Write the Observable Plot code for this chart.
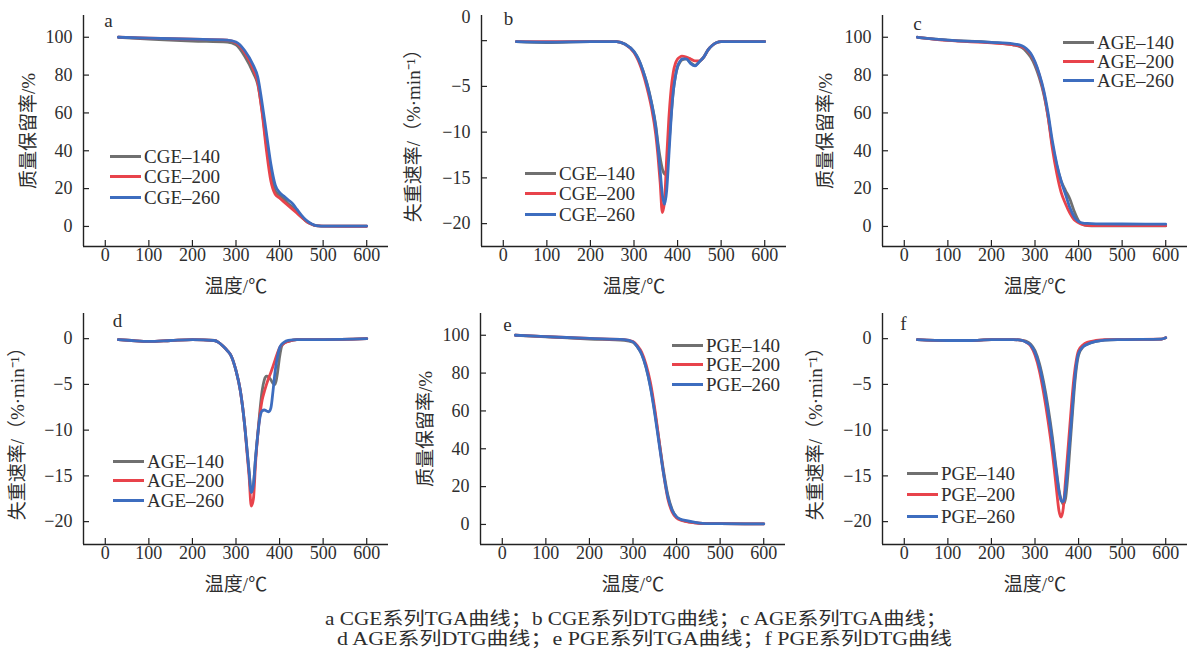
<!DOCTYPE html>
<html><head><meta charset="utf-8">
<script src="https://cdn.jsdelivr.net/npm/d3@7"></script>
<script src="https://cdn.jsdelivr.net/npm/@observablehq/plot@0.6"></script>
<style>
body{margin:0;background:#fff;overflow:hidden}
#fig{position:relative;width:1189px;height:655px;background:#fff;font-family:"Liberation Serif","Noto Sans CJK SC",serif;color:#2e2e2e}
.panel{position:absolute}
.legend{position:absolute;font-size:19px;line-height:19px}
.legend .row{position:absolute;left:0;display:flex;align-items:center;white-space:nowrap;height:18px;transform:translateY(-50%)}
.legend .sw{display:inline-block;width:31px;height:3px;margin-right:3px}
#cap{position:absolute;left:0;top:600px}
</style></head><body><div id="fig"></div>
<script>
// ---------- data ----------
const seriesKeys = ["140", "200", "260"];
const seriesColors = ["#707070", "#e8434b", "#3d6dbf"];
const xTicks = [0, 100, 200, 300, 400, 500, 600];
const tgaTicks = [0, 20, 40, 60, 80, 100];
const dtgTicks = [-20, -15, -10, -5, 0];

// a: CGE TGA
const tA = [30,100,200,280,300,320,340,350,360,370,380,390,400,410,420,430,440,450,460,470,480,490,500,550,600];
const aGray = [100,99,98,97.5,96,90,81,75,61,43,27,19,16.5,14.5,12,10,7.5,5,3,1.5,0.6,0.3,0.2,0.2,0.2];
const aRed  = [100,99.5,99,98.5,97,92,83,76,60,40,24,17,15,13,11,9,7,5,3,1.5,0.6,0.3,0.2,0.1,0.1];
const aBlue = [100,99.5,99,98.5,97.5,93,85,79,65,49,33,22,18,16,14,12,9,6,3.5,1.8,0.7,0.3,0.2,0.2,0.2];

// b: CGE DTG
const tB = [30,100,200,260,280,300,310,320,330,340,350,355,360,365,370,375,380,385,390,395,400,405,410,420,430,440,450,460,470,480,490,500,550,600];
const bGray = [-0.1,-0.2,-0.1,-0.1,-0.4,-1.2,-2.0,-3.2,-4.7,-6.7,-9.3,-11.2,-12.8,-14.0,-14.6,-14.0,-11.5,-8.3,-5.6,-3.9,-2.9,-2.4,-2.1,-2.0,-2.4,-2.7,-2.3,-1.8,-1.0,-0.5,-0.2,-0.1,-0.1,-0.1];
const bRed  = [-0.1,-0.1,-0.1,-0.1,-0.4,-1.3,-2.2,-3.5,-5.2,-7.3,-10.3,-12.6,-15.5,-18.8,-17.6,-12.8,-8.5,-5.4,-3.5,-2.5,-2.0,-1.8,-1.7,-1.8,-2.0,-2.2,-2.2,-1.8,-1.0,-0.5,-0.2,-0.1,-0.1,-0.1];
const bBlue = [-0.1,-0.15,-0.1,-0.1,-0.4,-1.2,-2.0,-3.2,-4.8,-6.8,-9.5,-11.6,-14.2,-16.8,-17.9,-16.4,-12.6,-8.6,-5.6,-3.9,-2.8,-2.3,-2.0,-2.0,-2.5,-2.75,-2.3,-1.8,-1.0,-0.5,-0.2,-0.1,-0.1,-0.1];

// c: AGE TGA
const tC = [30,100,200,250,270,280,290,300,310,320,330,340,350,360,370,380,390,400,410,420,440,500,600];
const cGray = [100,98.5,97.3,96,94.5,92.5,89.5,85,78.5,70,58,43,32,24,19,14.5,8,3,1,0.5,0.3,0.3,0.3];
const cRed  = [100,98.3,97,96,95,93.5,91,86.5,80,71,58,41,28,18,12,7,3.5,2,1,0.6,0.4,0.4,0.4];
const cBlue = [100,98.5,97.3,96.5,95.5,94,91.5,87,80.5,72,60,45,33,24,17,10,5,2.6,1.8,1.6,1.4,1.3,1.2];

// d: AGE DTG
const tD = [30,60,100,150,200,250,260,270,280,290,300,310,320,325,330,335,340,345,350,355,360,365,370,375,380,385,390,395,400,405,410,420,440,500,600];
const dGray = [-0.1,-0.2,-0.3,-0.2,-0.1,-0.2,-0.4,-0.8,-1.3,-2.0,-3.5,-5.7,-9.5,-12,-14.5,-16.8,-16,-13,-10.4,-7.8,-5.7,-4.5,-4.1,-4.2,-4.5,-4.9,-5,-3.8,-2,-0.8,-0.5,-0.3,-0.1,-0.1,0];
const dRed  = [-0.1,-0.2,-0.3,-0.2,-0.1,-0.2,-0.4,-0.8,-1.3,-2.0,-3.5,-5.7,-9.5,-12.3,-15,-18.3,-17.5,-13.5,-10.5,-8.3,-6.7,-5.8,-5,-4.3,-3.7,-3,-2.3,-1.6,-1,-0.7,-0.5,-0.3,-0.1,-0.1,0];
const dBlue = [-0.1,-0.2,-0.3,-0.2,-0.1,-0.2,-0.4,-0.8,-1.3,-2.0,-3.5,-5.7,-9.5,-12,-14.5,-16.8,-16,-13,-10.5,-8.6,-7.9,-7.8,-7.9,-8,-7.6,-5.7,-3.5,-2,-1,-0.6,-0.4,-0.2,-0.1,-0.1,0];

// e: PGE TGA
const tE = [30,100,200,280,300,310,320,330,340,350,360,370,380,390,400,410,420,440,460,500,600];
const eGray = [100,99.2,98,97.3,96.3,93.8,90,83,73,59.5,44,28.5,15.5,7.8,4,2.5,1.8,1,0.6,0.4,0.3];
const eRed  = [100,99.3,98.3,97.7,96.7,94.5,91,84.5,75,61,44,27,13.5,6.5,3.4,2.2,1.6,0.9,0.5,0.4,0.3];
const eBlue = [100,99.3,98.3,97.7,96.5,94,90,83,72.5,58.5,42.5,27,14.5,7.4,4,2.7,2.1,1.2,0.6,0.4,0.3];

// f: PGE DTG
const tF = [30,100,150,200,250,270,280,290,300,310,320,330,340,345,350,355,360,365,370,375,380,385,390,395,400,410,420,440,460,500,590,600];
const fGray = [-0.1,-0.2,-0.2,-0.1,-0.1,-0.2,-0.3,-0.6,-1.3,-2.7,-4.8,-7.5,-10.8,-12.8,-14.7,-16.5,-17.6,-18.1,-17.5,-15.2,-12,-8.8,-5.6,-3.2,-1.8,-0.9,-0.6,-0.3,-0.15,-0.1,-0.05,0.1];
const fRed  = [-0.1,-0.2,-0.2,-0.1,-0.1,-0.2,-0.4,-0.8,-1.8,-3.5,-6,-9,-12.5,-14.6,-16.8,-18.8,-19.5,-18.5,-15.5,-12.5,-9.5,-6.5,-4,-2.3,-1.3,-0.7,-0.4,-0.2,-0.1,-0.1,-0.05,0.1];
const fBlue = [-0.1,-0.2,-0.2,-0.1,-0.1,-0.2,-0.4,-0.7,-1.5,-3.0,-5.2,-8.0,-11.3,-13.2,-15,-16.7,-17.7,-17.8,-16.5,-14,-11,-8,-5,-2.8,-1.6,-0.9,-0.6,-0.3,-0.15,-0.1,-0.05,0.1];

const captionLines = [
  "a CGE系列TGA曲线；b CGE系列DTG曲线；c AGE系列TGA曲线；",
  "d AGE系列DTG曲线；e  PGE系列TGA曲线；f PGE系列DTG曲线"
];

// ---------- build ----------
const fig = document.getElementById("fig");
const FONT = '"Liberation Serif","Noto Sans CJK SC",serif';
const INK = "#2e2e2e";
const FRAME_W = 305, FRAME_H = 231, MT = 15, MB = 52, ML = 83;
const tgaDomain = [-10.6, 111.5];
const dtgDomain = [-22.5, 2.75];

function rowsOf(t, arrs) {
  const out = [];
  arrs.forEach((v, i) => t.forEach((x, j) => out.push({T: x, v: v[j], s: seriesKeys[i]})));
  return out;
}

function panel(cfg) {
  const isTGA = cfg.kind === "tga";
  const yDomain = isTGA ? tgaDomain : dtgDomain;
  const yTicks = isTGA ? tgaTicks : dtgTicks;
  const width = ML + FRAME_W + cfg.mr;
  const marks = [
    Plot.ruleY([yDomain[0]], {stroke: "#222", strokeWidth: 1.4}),
    Plot.ruleX([-50], {stroke: "#222", strokeWidth: 1.4}),
    Plot.tickX(xTicks, {x: d => d, insetTop: FRAME_H - 6, stroke: "#222", strokeWidth: 1.2}),
    Plot.tickY(yTicks, {y: d => d, insetRight: FRAME_W - 6, stroke: "#222", strokeWidth: 1.2}),
    Plot.axisX({ticks: xTicks, tickSize: 0, tickPadding: 2, label: null, fontSize: 18, fill: INK}),
    Plot.axisX({ticks: [], tickSize: 0, label: "温度/℃", labelAnchor: "center", labelArrow: "none", labelOffset: 46, fontSize: 19, fill: INK}),
    Plot.axisY({ticks: yTicks, tickSize: 0, tickPadding: 11, label: null, fontSize: 18, fill: INK,
      tickFormat: d => (cfg.zeroShift && d === 0) ? "" : (d < 0 ? "\u2212" + (-d) : String(d))}),
    Plot.axisY({ticks: [], tickSize: 0, label: cfg.ylabel, labelAnchor: "center", labelArrow: "none", labelOffset: cfg.lo, fontSize: 19, fill: INK}),
    Plot.line(cfg.rows, {x: "T", y: "v", z: "s", stroke: "s", strokeWidth: 2.8, curve: "monotone-x"}),
    Plot.text([cfg.letter], {frameAnchor: "top-left", dx: cfg.ldx, dy: cfg.ldy, fontSize: 19, textAnchor: "middle", lineAnchor: "middle", fill: INK})
  ];
  if (cfg.zeroShift) marks.push(Plot.axisY([0], {tickSize: 0, tickPadding: 11, dy: cfg.zeroShift, label: null, fontSize: 18, fill: INK}));
  const svg = Plot.plot({
    width, height: MT + FRAME_H + MB,
    marginLeft: ML, marginRight: cfg.mr, marginTop: MT, marginBottom: MB,
    x: {domain: [-50, 650]},
    y: {domain: yDomain},
    color: {domain: seriesKeys, range: seriesColors},
    style: {fontFamily: FONT, background: "transparent", overflow: "visible", color: INK},
    marks
  });
  svg.classList.add("panel");
  svg.style.left = cfg.left + "px";
  svg.style.top = cfg.top + "px";
  fig.appendChild(svg);

  // legend
  const lg = document.createElement("div");
  lg.className = "legend";
  lg.style.left = cfg.lgx + "px";
  lg.style.top = "0px";
  seriesKeys.forEach((k, i) => {
    const r = document.createElement("div");
    r.className = "row";
    r.style.top = (cfg.lgy + i * cfg.lgs) + "px";
    r.innerHTML = `<span class="sw" style="background:${seriesColors[i]}"></span><span>${cfg.prefix}–${k}</span>`;
    lg.appendChild(r);
  });
  fig.appendChild(lg);
}

const TGA_LABEL = "质量保留率/%";
const DTG_LABEL = "失重速率/（%·min⁻¹）";

panel({kind: "tga", rows: rowsOf(tA, [aGray, aRed, aBlue]), left: 0, top: 0, mr: 10, letter: "a", ldx: 25, ldy: 5, ylabel: TGA_LABEL, lo: 62, prefix: "CGE", lgx: 110, lgy: 156, lgs: 20.7});
panel({kind: "dtg", rows: rowsOf(tB, [bGray, bRed, bBlue]), left: 398, top: 0, mr: 10, letter: "b", ldx: 27, ldy: 3, ylabel: DTG_LABEL, lo: 75, prefix: "CGE", lgx: 525, lgy: 173, lgs: 20.8, zeroShift: -23});
panel({kind: "tga", rows: rowsOf(tC, [cGray, cRed, cBlue]), left: 799, top: 0, mr: 2, letter: "c", ldx: 35, ldy: 8, ylabel: TGA_LABEL, lo: 64, prefix: "AGE", lgx: 1063, lgy: 42, lgs: 19.3});
panel({kind: "dtg", rows: rowsOf(tD, [dGray, dRed, dBlue]), left: 0, top: 298, mr: 10, letter: "d", ldx: 34, ldy: 7, ylabel: DTG_LABEL, lo: 73, prefix: "AGE", lgx: 113, lgy: 461, lgs: 19.7});
panel({kind: "tga", rows: rowsOf(tE, [eGray, eRed, eBlue]), left: 397, top: 298, mr: 10, letter: "e", ldx: 27, ldy: 11, ylabel: TGA_LABEL, lo: 62, prefix: "PGE", lgx: 672, lgy: 345, lgs: 19.5});
panel({kind: "dtg", rows: rowsOf(tF, [fGray, fRed, fBlue]), left: 799, top: 298, mr: 2, letter: "f", ldx: 21, ldy: 10, ylabel: DTG_LABEL, lo: 74, prefix: "PGE", lgx: 907, lgy: 473, lgs: 21.5});

// caption
const ns = "http://www.w3.org/2000/svg";
const cap = document.createElementNS(ns, "svg");
cap.setAttribute("id", "cap");
cap.setAttribute("width", 1189);
cap.setAttribute("height", 55);
const capPos = [[325, 21, 622], [337, 41, 615]];
captionLines.forEach((line, i) => {
  const t = document.createElementNS(ns, "text");
  t.setAttribute("x", capPos[i][0]);
  t.setAttribute("y", capPos[i][1]);
  t.setAttribute("dominant-baseline", "middle");
  t.setAttribute("textLength", capPos[i][2]);
  t.setAttribute("lengthAdjust", "spacingAndGlyphs");
  t.setAttribute("font-family", FONT);
  t.setAttribute("font-size", 18);
  t.setAttribute("fill", INK);
  t.setAttribute("xml:space", "preserve");
  t.textContent = line;
  cap.appendChild(t);
});
fig.appendChild(cap);
</script></body></html>
